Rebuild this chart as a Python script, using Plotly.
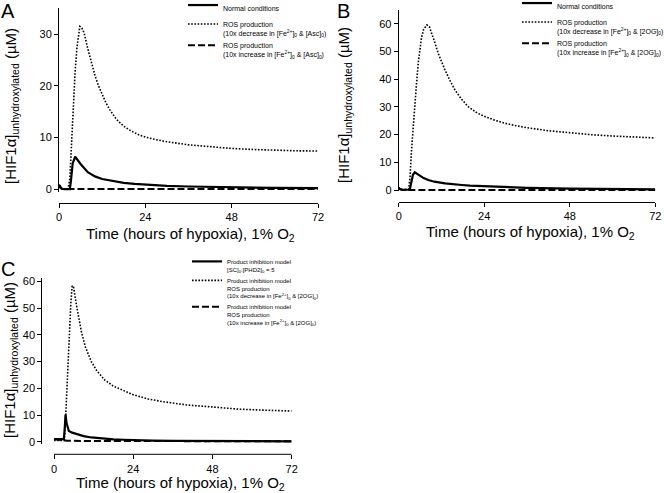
import plotly.graph_objects as go

W, H = 664, 493

# ---------------- data ----------------
X_TICKS = [0, 24, 48, 72]

# Panel A
A_norm_t = [0, 0.3, 0.8, 1.5, 3.0, 3.3, 3.8, 4.5, 6, 8, 10, 12, 15, 18, 21, 24, 30, 36, 48, 60, 72]
A_norm_v = [0.9, 0.6, 0.1, 0.02, 0.02, 1.5, 5.0, 6.3, 4.9, 3.3, 2.5, 2.0, 1.55, 1.25, 1.05, 0.9, 0.68, 0.55, 0.38, 0.28, 0.22]
A_dec_t = [0, 0.5, 1, 2.5, 3.0, 3.5, 4.0, 4.5, 5.0, 5.5, 5.8, 6.3, 7, 8, 9, 10, 11, 12, 13, 14, 16, 18, 20, 22, 24, 27, 30, 36, 42, 48, 54, 60, 66, 72]
A_dec_v = [0.5, 0.1, 0, 0, 2, 10, 17.3, 23, 27.5, 30.5, 31.5, 31.3, 30.2, 27.2, 24.5, 22, 20, 18.3, 16.8, 15.5, 13.5, 12.2, 11.3, 10.6, 10.1, 9.6, 9.2, 8.6, 8.2, 7.9, 7.7, 7.55, 7.45, 7.4]
A_inc_t = [0, 0.5, 1, 36, 72]
A_inc_v = [0.7, 0.2, 0.05, 0.05, 0.05]

# Panel B
B_norm_t = [0, 0.4, 1, 3.1, 3.5, 4.0, 4.5, 5.5, 7, 8.3, 10, 13, 15, 17.7, 20, 24, 27, 30, 36, 48, 60, 72]
B_norm_v = [0.8, 0.3, 0.1, 0.1, 2.5, 5.5, 6.4, 5.6, 4.3, 3.6, 3.0, 2.4, 2.05, 1.8, 1.55, 1.3, 1.15, 1.0, 0.8, 0.5, 0.35, 0.25]
B_dec_t = [0, 0.5, 1, 2.8, 3.2, 3.6, 4.1, 4.6, 5.0, 5.5, 6.0, 6.4, 7.0, 7.9, 8.6, 9.3, 10.2, 11.1, 12, 13, 14.4, 15.8, 17.5, 19.5, 22, 24.2, 27, 29.8, 33, 36, 42, 48, 54, 60, 66, 72]
B_dec_v = [0.6, 0.2, 0.1, 0.3, 5, 14.4, 24, 32.5, 38.5, 46, 51.5, 55, 58, 59.6, 59, 56.6, 53, 49.3, 46.3, 43.3, 39.5, 36.1, 33, 30.1, 27.8, 26.5, 25.2, 24.1, 23.2, 22.5, 21.4, 20.6, 20.0, 19.5, 19.1, 18.8]
B_inc_t = [0, 0.5, 1, 36, 72]
B_inc_v = [0.6, 0.2, 0.05, 0.05, 0.05]

# Panel C
C_norm_t = [0, 3.0, 3.3, 3.5, 3.8, 4.5, 5.5, 7.3, 9, 11.3, 13, 15.4, 18, 21, 25, 30, 36, 48, 60, 72]
C_norm_v = [1.0, 1.0, 6, 10.2, 7, 4.0, 3.4, 2.6, 2.1, 1.6, 1.35, 1.1, 0.9, 0.75, 0.55, 0.45, 0.35, 0.25, 0.2, 0.15]
C_dec_t = [0, 3.0, 3.3, 3.7, 4.2, 4.7, 5.1, 5.5, 5.9, 6.8, 7.5, 8.3, 9.5, 11.3, 13, 15.4, 18, 20.4, 24, 28.5, 33, 40, 48, 56, 64, 72]
C_dec_v = [0.5, 0.5, 3, 15, 28.7, 42, 52, 58.4, 58, 51.2, 46, 41.2, 35.5, 30, 26.5, 23.1, 20.8, 19.4, 17.6, 16.0, 15.0, 13.8, 12.9, 12.2, 11.8, 11.5]
C_inc_t = [0, 2, 4, 10, 72]
C_inc_v = [1.0, 0.6, 0.4, 0.25, 0.2]

A_Y_TICKS = [0, 10, 20, 30]
B_Y_TICKS = [0, 10, 20, 30, 40, 50, 60]
C_Y_TICKS = [0, 10, 20, 30, 40, 50, 60]

A_names = ["Normal conditions",
           "ROS production<br>(10x decrease in [Fe<sup>2+</sup>]<sub>0</sub> &amp; [Asc]<sub>0</sub>)",
           "ROS production<br>(10x increase in [Fe<sup>2+</sup>]<sub>0</sub> &amp; [Asc]<sub>0</sub>)"]
B_names = ["Normal conditions",
           "ROS production<br>(10x decrease in [Fe<sup>2+</sup>]<sub>0</sub> &amp; [2OG]<sub>0</sub>)",
           "ROS production<br>(10x increase in [Fe<sup>2+</sup>]<sub>0</sub> &amp; [2OG]<sub>0</sub>)"]
C_names = ["Product inhibition model<br>[SC]<sub>0</sub>:[PHD2]<sub>0</sub> = 5",
           "Product inhibition model<br>ROS production<br>(10x decrease in [Fe<sup>2+</sup>]<sub>0</sub> &amp; [2OG]<sub>0</sub>)",
           "Product inhibition model<br>ROS production<br>(10x increase in [Fe<sup>2+</sup>]<sub>0</sub> &amp; [2OG]<sub>0</sub>)"]

Y_TITLE = "[HIF1α]<sub>unhydroxylated</sub> (µM)"
X_TITLE = "Time (hours of hypoxia), 1% O<sub>2</sub>"

# ---------------- helpers ----------------
def fx(px):
    return px / W

def fy(py):
    return 1 - py / H

FONT = "Arial, Liberation Sans, sans-serif"
STY_SOLID = dict(color="black", width=2.2)
STY_DOT = dict(color="black", width=1.6, dash="1.6px,1.6px")
STY_DASH = dict(color="black", width=2.0, dash="7px,3px")

fig = go.Figure()

panels = [
    ("x", "y", "legend", [(A_norm_t, A_norm_v, STY_SOLID), (A_dec_t, A_dec_v, STY_DOT), (A_inc_t, A_inc_v, STY_DASH)], A_names),
    ("x2", "y2", "legend2", [(B_norm_t, B_norm_v, STY_SOLID), (B_dec_t, B_dec_v, STY_DOT), (B_inc_t, B_inc_v, STY_DASH)], B_names),
    ("x3", "y3", "legend3", [(C_norm_t, C_norm_v, STY_SOLID), (C_dec_t, C_dec_v, STY_DOT), (C_inc_t, C_inc_v, STY_DASH)], C_names),
]
for xa, ya, lg, series, names in panels:
    for (t, v, sty), name in zip(series, names):
        fig.add_trace(go.Scatter(x=t, y=v, mode="lines", line=sty, name=name,
                                 xaxis=xa, yaxis=ya, legend=lg, hoverinfo="skip"))

axis_common = dict(showgrid=False, zeroline=False, ticks="outside", ticklen=4,
                   tickwidth=1, tickcolor="black", linecolor="black", linewidth=1,
                   tickfont=dict(family=FONT, size=11, color="black"))

# Panel A geometry (px)
A_x0, A_x1 = 59, 318
A_ytop, A_ybot = 8.3, 191.7
A_xaxis_y = 202.7
# Panel B
B_x0, B_x1 = 398.7, 655.3
B_ytop, B_ybot = 10, 191.4
B_xaxis_y = 202
# Panel C
C_yaxis_x, C_x0, C_x1 = 42.3, 54, 291.7
C_ytop, C_ybot = 277.5, 444.4
C_xaxis_y = 454.3
C_xmin = X_TICKS[0] - (C_x0 - C_yaxis_x) * (X_TICKS[-1] - X_TICKS[0]) / (C_x1 - C_x0)

fig.update_layout(
    width=W, height=H, margin=dict(l=0, r=0, t=0, b=0, autoexpand=False),
    paper_bgcolor="white", plot_bgcolor="white",
    font=dict(family=FONT, color="black"),
    xaxis=dict(axis_common, domain=[fx(A_x0), fx(A_x1)], range=[X_TICKS[0], X_TICKS[-1]],
               tickvals=X_TICKS, anchor="free", position=fy(A_xaxis_y), showline=True),
    yaxis=dict(axis_common, domain=[fy(A_ybot), fy(A_ytop)], range=[-0.46, 35],
               tickvals=A_Y_TICKS, anchor="x", showline=True),
    xaxis2=dict(axis_common, domain=[fx(B_x0), fx(B_x1)], range=[X_TICKS[0], X_TICKS[-1]],
                tickvals=X_TICKS, anchor="free", position=fy(B_xaxis_y), showline=True),
    yaxis2=dict(axis_common, domain=[fy(B_ybot), fy(B_ytop)], range=[-0.5, 65],
                tickvals=B_Y_TICKS, anchor="x2", showline=True),
    xaxis3=dict(axis_common, domain=[fx(C_yaxis_x), fx(C_x1)], range=[C_xmin, X_TICKS[-1]],
                tickvals=X_TICKS, anchor="free", position=fy(C_xaxis_y), showline=False),
    yaxis3=dict(axis_common, domain=[fy(C_ybot), fy(C_ytop)], range=[-1, 61.5],
                tickvals=C_Y_TICKS, anchor="x3", showline=True),
    showlegend=True,
)

leg_common = dict(bgcolor="rgba(0,0,0,0)", borderwidth=0, xanchor="left", yanchor="top",
                  valign="top", itemwidth=30, traceorder="normal", itemclick=False,
                  itemdoubleclick=False)
fig.update_layout(
    legend=dict(leg_common, x=fx(183), y=fy(-6), font=dict(family=FONT, size=7, color="black")),
    legend2=dict(leg_common, x=fx(517), y=fy(-8), font=dict(family=FONT, size=7, color="black")),
    legend3=dict(leg_common, x=fx(187), y=fy(251), font=dict(family=FONT, size=6, color="black")),
)

# axis line for panel C x-axis (from first to last tick)
fig.add_shape(type="line", xref="x3", yref="paper", x0=X_TICKS[0], x1=X_TICKS[-1],
              y0=fy(C_xaxis_y), y1=fy(C_xaxis_y), line=dict(color="black", width=1))

ann = []
def add_text(text, x, y, size, angle=0):
    ann.append(dict(text=text, x=fx(x), y=fy(y), xref="paper", yref="paper",
                    showarrow=False, textangle=angle, xanchor="center", yanchor="middle",
                    font=dict(family=FONT, size=size, color="black")))

add_text(Y_TITLE, 11, 106, 15, -90)
add_text(Y_TITLE, 345, 105, 15, -90)
add_text(Y_TITLE, 10, 360, 15, -90)
add_text(X_TITLE, 190, 234, 15)
add_text(X_TITLE, 530, 233, 15)
add_text(X_TITLE, 180, 483, 15)
add_text("A", 8, 11, 20)
add_text("B", 343, 11, 20)
add_text("C", 8, 269, 20)
fig.update_layout(annotations=ann)

fig.write_html("out.html", config={"displayModeBar": False},
               post_script="document.body.style.margin='0px';document.body.style.overflow='hidden';")
